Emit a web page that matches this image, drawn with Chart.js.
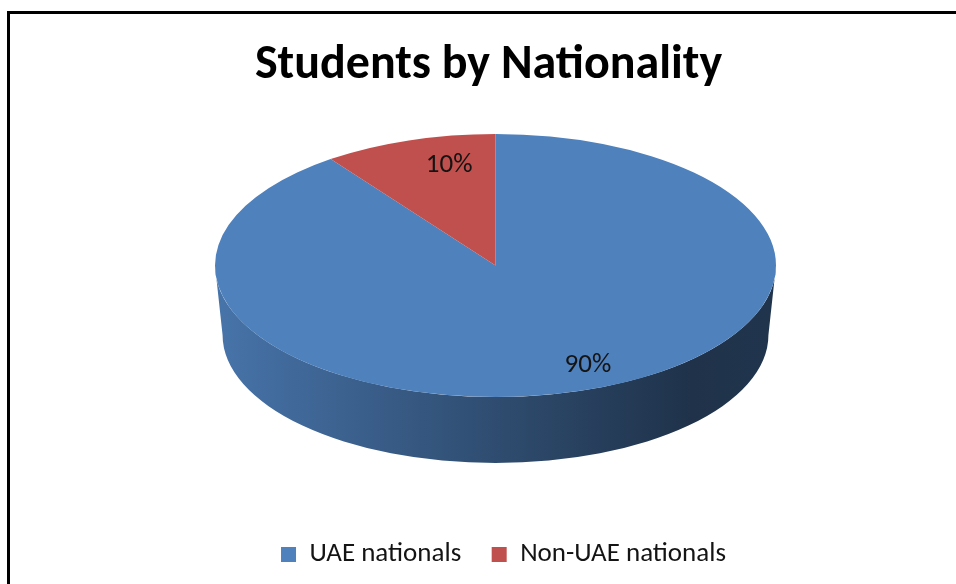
<!DOCTYPE html>
<html><head><meta charset="utf-8">
<script src="https://cdn.jsdelivr.net/npm/chart.js@4.4.0/dist/chart.umd.min.js"></script>
<style>
html,body{margin:0;padding:0;background:#fff;overflow:hidden;}
#wrap{position:relative;width:956px;height:584px;overflow:hidden;}
#frame{position:absolute;left:7px;top:11px;width:1000px;height:700px;border:3px solid #000;pointer-events:none;box-sizing:border-box;}
canvas{position:absolute;left:0;top:0;}
</style></head><body>
<div id="wrap"><canvas id="c" width="956" height="584"></canvas><div id="frame"></div></div>
<script>
// ---- data ----
const titleText = 'Students by Nationality';
const categories = ['UAE nationals', 'Non-UAE nationals'];
const shares = [90, 10];
const colors = ['#4f81bd', '#c0504d'];

// ---- style ----
const TITLE_FONT = 'Carlito, Lato, "Open Sans", sans-serif';
const TEXT_FONT = 'Carlito, "Open Sans", sans-serif';
const PIE = {cy: 265.5, rx: 280.5, ry: 131.5, depth: 66, shrink: 0.973};
const LABEL = {radius: 0.8, dx: 23, size: 27};
const SIDE_STOPS = [[0, 0.9], [0.35, 0.68], [0.65, 0.5], [0.85, 0.39], [1, 0.41]];
const TITLE_SHIFT_X = -7;
const LEGEND_SHIFT_X = 8;

function shade(hex, f) {
  const n = parseInt(hex.slice(1), 16);
  const r = Math.round(((n >> 16) & 255) * f), g = Math.round(((n >> 8) & 255) * f), b = Math.round((n & 255) * f);
  return `rgb(${r},${g},${b})`;
}
function frontSegments(s, e) {
  const out = [];
  for (let k = -2; k <= 2; k++) {
    const lo = Math.max(s, 2 * Math.PI * k), hi = Math.min(e, Math.PI + 2 * Math.PI * k);
    if (hi > lo) out.push([lo, hi]);
  }
  return out;
}

const pie3d = {
  id: 'pie3d',
  afterLayout(chart) {
    if (chart.titleBlock) { chart.titleBlock.left += TITLE_SHIFT_X; chart.titleBlock.right += TITLE_SHIFT_X; }
    if (chart.legend) { chart.legend.left += LEGEND_SHIFT_X; chart.legend.right += LEGEND_SHIFT_X; }
  },
  beforeDatasetsDraw(chart) {
    const meta = chart.getDatasetMeta(0);
    const el0 = meta.data[0];
    const ctx = chart.ctx;
    const cx = el0.x, cy = PIE.cy, R = el0.outerRadius;
    const rx = PIE.rx, ry = PIE.ry;
    const rxb = rx * PIE.shrink, ryb = ry * PIE.shrink, cyb = cy + ry + PIE.depth - ryb;
    meta.data.forEach((el, i) => {
      const base = chart.data.datasets[0].backgroundColor[i];
      frontSegments(el.startAngle, el.endAngle).forEach(([a1, a2]) => {
        const grad = ctx.createLinearGradient(cx - rx, 0, cx + rx, 0);
        SIDE_STOPS.forEach(([p, f]) => grad.addColorStop(p, shade(base, f)));
        ctx.save();
        ctx.fillStyle = grad;
        ctx.beginPath();
        ctx.ellipse(cx, cy, rx, ry, 0, a1, a2, false);
        ctx.ellipse(cx, cyb, rxb, ryb, 0, a2, a1, true);
        ctx.closePath();
        ctx.fill();
        ctx.restore();
      });
    });
    ctx.save();
    ctx.translate(cx, cy);
    ctx.scale(rx / R, ry / R);
    ctx.translate(-el0.x, -el0.y);
  },
  afterDatasetsDraw(chart) {
    const ctx = chart.ctx;
    ctx.restore();
    const meta = chart.getDatasetMeta(0);
    const data = chart.data.datasets[0].data;
    const total = data.reduce((a, b) => a + b, 0);
    const cx = meta.data[0].x, cy = PIE.cy;
    ctx.save();
    ctx.font = `${LABEL.size}px ${TEXT_FONT}`;
    ctx.fillStyle = '#141414';
    ctx.textAlign = 'center';
    ctx.textBaseline = 'middle';
    meta.data.forEach((el, i) => {
      const mid = (el.startAngle + el.endAngle) / 2;
      const x = cx + LABEL.radius * PIE.rx * Math.cos(mid) + LABEL.dx;
      const y = cy + LABEL.radius * PIE.ry * Math.sin(mid);
      ctx.fillText(Math.round(data[i] / total * 100) + '%', x, y);
    });
    ctx.restore();
  }
};

new Chart(document.getElementById('c'), {
  type: 'pie',
  data: {
    labels: categories,
    datasets: [{data: shares, backgroundColor: colors, borderWidth: 0, clip: false}]
  },
  options: {
    responsive: false,
    animation: false,
    events: [],
    layout: {padding: {left: 35, right: 0, bottom: 6}},
    plugins: {
      title: {display: true, text: titleText, color: '#000',
        font: {family: TITLE_FONT, size: 48, weight: 'bold'}, padding: {top: 37, bottom: 10}},
      legend: {position: 'bottom',
        labels: {boxWidth: 15, boxHeight: 15, padding: 30.5, color: '#141414',
          font: {family: TEXT_FONT, size: 27}}},
      tooltip: {enabled: false}
    }
  },
  plugins: [pie3d]
});
</script>
</body></html>
